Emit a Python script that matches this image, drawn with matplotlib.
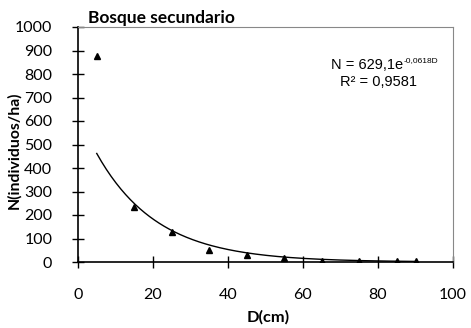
import numpy as np
import matplotlib
matplotlib.use("Agg")
import matplotlib.pyplot as plt

# Data
diam = [5, 15, 25, 35, 45, 55, 65, 75, 85, 90]
density = [877, 235, 126, 51, 30, 18, 6, 4, 3, 3]
fit_a = 629.1
fit_b = -0.0618
x_ticks = [0, 20, 40, 60, 80, 100]
y_ticks = [0, 100, 200, 300, 400, 500, 600, 700, 800, 900, 1000]

fig = plt.figure(figsize=(4.71, 3.28), dpi=100)
ax = fig.add_axes([78/471, 1-262/328, (453-78)/471, (262-27)/328])

ax.plot(diam, density, linestyle='none', marker='^', color='black', markersize=5)
xf = np.linspace(min(diam), max(diam), 200)
ax.plot(xf, fit_a*np.exp(fit_b*xf), color='black', linewidth=1.0)

ax.set_xlim(0, 100)
ax.set_ylim(0, 1000)
ax.set_xticks(x_ticks)
ax.set_yticks(y_ticks)

font_lab = ['Lato', 'DejaVu Sans']
ax.tick_params(axis='both', direction='inout', length=9, width=1, colors='black', labelsize=11.5)
ax.tick_params(axis='x', pad=14)
ax.tick_params(axis='y', pad=14)
for lab in ax.get_xticklabels() + ax.get_yticklabels():
    lab.set_family(font_lab)

for s in ['left', 'bottom']:
    ax.spines[s].set_color('black')
    ax.spines[s].set_linewidth(1.2)
for s in ['top', 'right']:
    ax.spines[s].set_color('#888888')
    ax.spines[s].set_linewidth(0.8)

fig.text(88/471, 1-18/328, 'Bosque secundario', fontsize=12.5, fontweight='bold',
         family=font_lab, ha='left', va='center')
fig.text(14/471, 1-150/328, 'N(individuos/ha)', fontsize=11.3, fontweight='bold',
         family=font_lab, rotation=90, ha='center', va='center')
fig.text(268/471, 1-317/328, 'D(cm)', fontsize=11.8, fontweight='bold',
         family=font_lab, ha='center', va='center')

fig.text(403/471, 1-65/328, 'N = 629,1e', fontsize=10.5,
         family='Liberation Sans', ha='right', va='center')
fig.text(403.5/471, 1-61/328, '-0,0618D', fontsize=6,
         family='Liberation Sans', ha='left', va='center')
fig.text(378/471, 1-82/328, 'R² = 0,9581', fontsize=10.5,
         family='Liberation Sans', ha='center', va='center')

fig.savefig('out.png', dpi=100)
